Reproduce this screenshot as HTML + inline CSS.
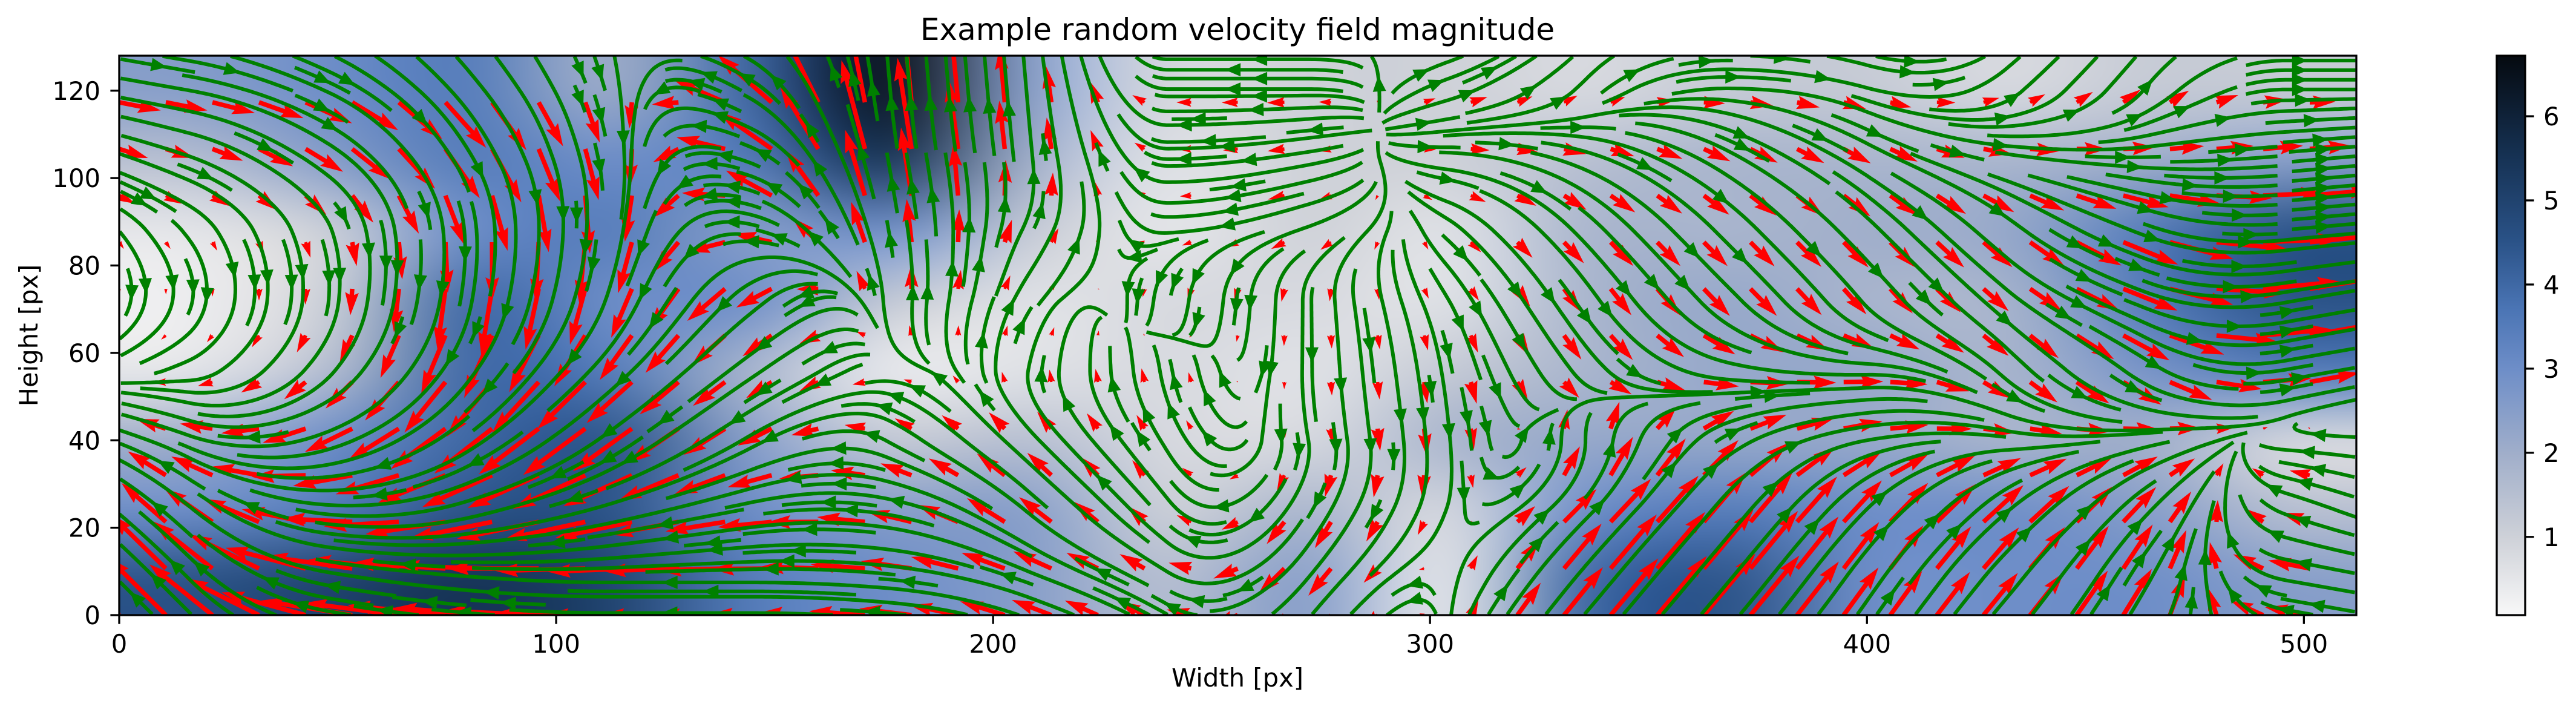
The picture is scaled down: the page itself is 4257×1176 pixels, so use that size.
<!DOCTYPE html>
<html><head><meta charset="utf-8">
<style>
html,body{margin:0;padding:0;background:#fff;}
#wrap{position:relative;width:4257px;height:1176px;overflow:hidden;background:#fff;}
#heat{position:absolute;left:197px;top:92px;}
#cbar{position:absolute;left:4126px;top:92px;}
svg{position:absolute;left:0;top:0;}
text{font-family:"DejaVu Sans","Liberation Sans",sans-serif;fill:#000;}
</style></head>
<body>
<div id="wrap">
<canvas id="heat" width="3697" height="924"></canvas>
<canvas id="cbar" width="47" height="924"></canvas>
<svg id="svg" width="4257" height="1176" xmlns="http://www.w3.org/2000/svg">
  <defs><clipPath id="pc"><rect x="197" y="92" width="3697" height="924"/></clipPath></defs>
  <g id="quiver" clip-path="url(#pc)"></g>
  <g id="stream" clip-path="url(#pc)"></g>
  <rect x="197" y="92" width="3697" height="924" fill="none" stroke="#000" stroke-width="3.3"/>
  <rect x="4126" y="92" width="47" height="924" fill="none" stroke="#000" stroke-width="3.3"/>
  <g id="axes"></g>
  <text x="2045" y="66" font-size="50" text-anchor="middle">Example random velocity field magnitude</text>
  <text x="2045" y="1134" font-size="41.7" text-anchor="middle">Width [px]</text>
  <text x="62" y="554" font-size="41.7" text-anchor="middle" transform="rotate(-90 62 554)">Height [px]</text>
</svg>
</div>
<script>
// ---- data (grid cells: 16 columns of 32px, 8 rows of 16px, rows listed top to bottom) ----
const magRows = [
 [2.5,3,3.5,2,4,6.5,2.5,0.8,1,1,0.8,1.2,1.2,0.8,1.2,1.2],
 [1.5,2.5,3.5,3,3.5,5.5,2,0.6,1,1,1.5,1.8,1.8,1.8,2,2.5],
 [0.5,1,3,3.5,2.5,3,1.2,0.5,1,0.6,1.8,1.8,2,2.2,3.5,4.5],
 [0.3,1,4,3,3,1.2,0.6,0.8,0.8,0.6,1.8,2.2,1.8,1.8,3.5,4.5],
 [0.5,1.5,4,3.5,1.8,0.4,0.6,0.8,0.6,1.2,1.8,2.2,2.2,1.8,2.8,3.5],
 [2,3,4,4.5,2.5,1.2,1.5,0.8,0.8,1.8,2.2,2.2,2.2,1.8,2,0.8],
 [3,3.5,4.5,4.5,3,2.5,2.5,1,1.8,0.8,3,3.5,3,3,2.5,1.5],
 [4.5,5,5.5,5,3.5,3,2.5,1.5,2.5,0.5,4,4.5,3,3,3,2.5]
];
const angleRows = [
 [-10,-25,-50,-75,150,95,95,180,180,20,45,0,-15,40,50,0],
 [-20,-35,-60,-80,160,100,95,180,190,-5,-20,-30,-30,-10,0,5],
 [-50,-70,-85,-95,170,100,60,180,200,-40,-45,-45,-45,-40,-20,5],
 [-100,-95,-100,-110,220,90,55,-100,-90,-60,-55,-45,-50,-40,-20,10],
 [200,230,235,225,215,190,80,100,-90,-80,-50,-10,0,-45,-35,10],
 [160,200,215,215,210,150,135,120,-80,-85,90,30,10,-5,10,180],
 [140,175,195,195,190,170,140,130,240,250,45,50,45,40,45,160],
 [135,170,175,180,180,175,160,150,230,90,50,50,55,50,60,170]
];
const xTicks = [0,100,200,300,400,500];
const yTicks = [0,20,40,60,80,100,120];
const cbarTicks = [1,2,3,4,5,6];
const cbarRange = [0.07,6.72];
const xDomain = [0,512];
const yDomain = [0,128];

// ---- scales ----
const PL=197, PR=3894, PT=92, PB=1016;
function sx(x){return PL+(x-xDomain[0])/(xDomain[1]-xDomain[0])*(PR-PL);}
function sy(y){return PB-(y-yDomain[0])/(yDomain[1]-yDomain[0])*(PB-PT);}
function cy(v){return PB-(v-cbarRange[0])/(cbarRange[1]-cbarRange[0])*(PB-PT);}
const NS='http://www.w3.org/2000/svg';
function mk(tag,attrs,parent){const e=document.createElementNS(NS,tag);for(const k in attrs)e.setAttribute(k,attrs[k]);parent.appendChild(e);return e;}

// ---- colormap ----
const cstops=[[0,[248,248,248]],[0.14,[206,209,216]],[0.29,[160,174,202]],[0.44,[110,142,200]],[0.55,[74,116,180]],[0.67,[42,82,135]],[0.82,[22,50,84]],[1,[5,10,16]]];
function cmap(t){t=Math.max(0,Math.min(1,t));for(let i=1;i<cstops.length;i++){if(t<=cstops[i][0]){const a=cstops[i-1],b=cstops[i];const f=(t-a[0])/(b[0]-a[0]);return a[1].map((c,k)=>Math.round(c+(b[1][k]-c)*f));}}return cstops[cstops.length-1][1];}

// ---- heatmap ----
(function(){
  const NY=magRows.length, NX=magRows[0].length;
  const small=document.createElement('canvas');small.width=NX;small.height=NY;
  const sc=small.getContext('2d');const img=sc.createImageData(NX,NY);
  for(let r=0;r<NY;r++)for(let c=0;c<NX;c++){
    const col=cmap((magRows[r][c]-cbarRange[0])/(cbarRange[1]-cbarRange[0]));
    const o=(r*NX+c)*4;img.data[o]=col[0];img.data[o+1]=col[1];img.data[o+2]=col[2];img.data[o+3]=255;}
  sc.putImageData(img,0,0);
  const h=document.getElementById('heat').getContext('2d');
  h.imageSmoothingEnabled=true;h.imageSmoothingQuality='high';
  h.drawImage(small,0,0,3697,924);
  const cb=document.getElementById('cbar').getContext('2d');
  for(let y=0;y<924;y++){const v=cbarRange[1]-(y/923)*(cbarRange[1]-cbarRange[0]);const col=cmap((v-cbarRange[0])/(cbarRange[1]-cbarRange[0]));cb.fillStyle='rgb('+col.join(',')+')';cb.fillRect(0,y,47,1);}
})();

// ---- velocity field ----
const uRows=magRows.map((row,r)=>row.map((m,c)=>m*Math.cos(angleRows[r][c]*Math.PI/180)));
const vRows=magRows.map((row,r)=>row.map((m,c)=>m*Math.sin(angleRows[r][c]*Math.PI/180)));
function vel(x,y){
  const NY=magRows.length, NX=magRows[0].length;
  let gx=x/32-0.5, gy=(128-y)/16-0.5;
  gx=Math.max(0,Math.min(NX-1,gx)); gy=Math.max(0,Math.min(NY-1,gy));
  const i0=Math.min(NX-2,Math.floor(gx)), j0=Math.min(NY-2,Math.floor(gy));
  const fx=gx-i0, fy=gy-j0;
  function bl(A){return A[j0][i0]*(1-fx)*(1-fy)+A[j0][i0+1]*fx*(1-fy)+A[j0+1][i0]*(1-fx)*fy+A[j0+1][i0+1]*fx*fy;}
  return [bl(uRows),bl(vRows)];
}

// ---- quiver ----
(function(){
  const g=document.getElementById('quiver');
  const QX=48, QY=12, step=512/48;
  const w=7.5, K=30;
  for(let j=0;j<QY;j++)for(let i=0;i<QX;i++){
    const x=i*step, y=j*step;
    const [u,v]=vel(x,y);
    const L=Math.hypot(u,v)*K; if(L<1)continue;
    const ang=Math.atan2(-v,u);
    let s=1; if(L<5*w) s=L/(5*w);
    const hw=3*w*s/2, hl=5*w*s, ha=4.5*w*s, sw=w*s/2;
    const pts=[[0,-sw],[L-ha,-sw],[L-hl,-hw],[L,0],[L-hl,hw],[L-ha,sw],[0,sw]];
    const ca=Math.cos(ang), sa=Math.sin(ang), X=sx(x), Y=sy(y);
    const p=pts.map(q=>(X+q[0]*ca-q[1]*sa).toFixed(1)+','+(Y+q[0]*sa+q[1]*ca).toFixed(1)).join(' ');
    const el=mk('polygon',{points:p,fill:'#ff0000'},g);
    
    
  }
})();

// ---- streamlines ----
(function(){
  const g=document.getElementById('stream');
  const MX=115, MY=58;
  const mask=new Uint8Array(MX*MY);
  const ds=0.15;
  function toMask(x,y){return [x/512*MX, y/128*MY];}
  function integrate(x0,y0,dir,claimed){
    const pts=[]; let x=x0,y=y0;
    let [mx,my]=toMask(x,y); let ci=Math.floor(mx), cj=Math.floor(my);
    for(let n=0;n<2000;n++){
      const [u,v]=vel(x,y);
      let a=u*MX/512, b=v*MY/128; const sp=Math.hypot(a,b); if(sp<0.02)break;
      const xm=x+dir*a/sp*ds*0.5*512/MX, ym=y+dir*b/sp*ds*0.5*128/MY;
      const [u2,v2]=vel(xm,ym);
      let a2=u2*MX/512, b2=v2*MY/128; const sp2=Math.hypot(a2,b2); if(sp2<0.02)break;
      const nx=x+dir*a2/sp2*ds*512/MX, ny=y+dir*b2/sp2*ds*128/MY;
      if(nx<0||nx>512||ny<0||ny>128)break;
      [mx,my]=toMask(nx,ny); const ni=Math.min(MX-1,Math.floor(mx)), nj=Math.min(MY-1,Math.floor(my));
      if(ni!==ci||nj!==cj){ if(mask[nj*MX+ni])break; mask[nj*MX+ni]=1; claimed.push(nj*MX+ni); ci=ni; cj=nj; }
      x=nx;y=ny;pts.push([x,y]);
    }
    return pts;
  }
  const order=[];
  let l=0,r=MX-1,t=0,b=MY-1;
  while(l<=r&&t<=b){
    for(let i=l;i<=r;i++)order.push([i,t]);
    for(let j=t+1;j<=b;j++)order.push([r,j]);
    if(t<b)for(let i=r-1;i>=l;i--)order.push([i,b]);
    if(l<r)for(let j=b-1;j>t;j--)order.push([l,j]);
    l++;r--;t++;b--;
  }
  for(const [ci,cj] of order){
    if(mask[cj*MX+ci])continue;
    const x0=(ci+0.5)*512/MX, y0=(cj+0.5)*128/MY;
    const claimed=[cj*MX+ci]; mask[cj*MX+ci]=1;
    const back=integrate(x0,y0,-1,claimed);
    const fwd=integrate(x0,y0,1,claimed);
    const path=back.reverse().concat([[x0,y0]],fwd);
    if(path.length<20){for(const k of claimed)mask[k]=0;continue;}
    const d=path.map((p,k)=>(k?'L':'M')+sx(p[0]).toFixed(1)+' '+sy(p[1]).toFixed(1)).join('');
    const ln=mk('path',{d:d,fill:'none',stroke:'#008000','stroke-width':6,'stroke-linecap':'butt','stroke-linejoin':'round'},g);
    
    
    const m=Math.floor(path.length/2), p1=path[m], p2=path[Math.min(path.length-1,m+1)];
    const X=sx(p1[0]),Y=sy(p1[1]); const an=Math.atan2(sy(p2[1])-Y,sx(p2[0])-X);
    const ca=Math.cos(an),sa=Math.sin(an);
    const tri=[[13,0],[-13,-11],[-13,11]].map(q=>(X+q[0]*ca-q[1]*sa).toFixed(1)+','+(Y+q[0]*sa+q[1]*ca).toFixed(1)).join(' ');
    const ah=mk('polygon',{points:tri,fill:'#008000'},g);
    
    
  }
})();

// ---- axes ticks ----
(function(){
  const g=document.getElementById('axes');
  for(const v of xTicks){
    const X=sx(v);
    const t=mk('line',{x1:X,y1:PB,x2:X,y2:PB+14.6,stroke:'#000','stroke-width':3.3},g);
    
    
    const tx=mk('text',{x:X,y:1078,'font-size':41.7,'text-anchor':'middle'},g);tx.textContent=v;
    
    
  }
  for(const v of yTicks){
    const Y=sy(v);
    const t=mk('line',{x1:PL-14.6,y1:Y,x2:PL,y2:Y,stroke:'#000','stroke-width':3.3},g);
    
    
    const tx=mk('text',{x:166,y:Y+15,'font-size':41.7,'text-anchor':'end'},g);tx.textContent=v;
    
    
  }
  for(const v of cbarTicks){
    const Y=cy(v);
    const t=mk('line',{x1:4173,y1:Y,x2:4187.6,y2:Y,stroke:'#000','stroke-width':3.3},g);
    
    
    const tx=mk('text',{x:4203,y:Y+15,'font-size':41.7,'text-anchor':'start'},g);tx.textContent=v;
    
    
  }
})();
</script>
</body></html>
